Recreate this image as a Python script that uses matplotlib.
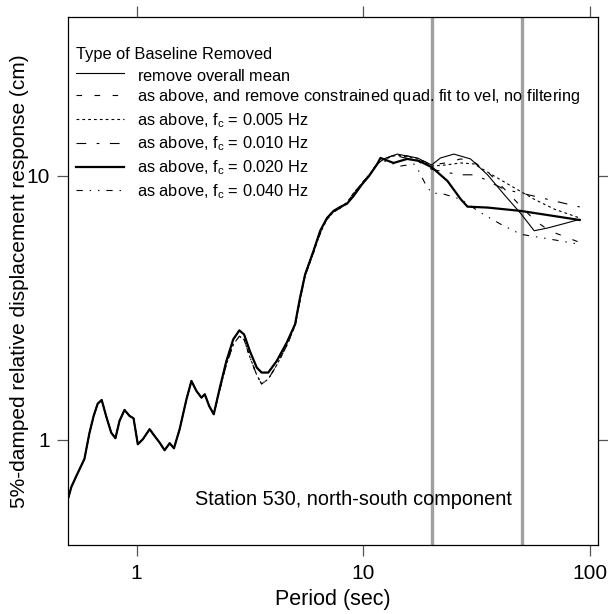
import matplotlib
matplotlib.use("Agg")
import matplotlib.pyplot as plt
import numpy as np

plt.rcParams['font.family'] = ['Liberation Sans', 'DejaVu Sans']
plt.rcParams['mathtext.fontset'] = 'custom'
plt.rcParams['mathtext.rm'] = 'Liberation Sans'
plt.rcParams['mathtext.it'] = 'Liberation Sans'
plt.rcParams['lines.scale_dashes'] = False

# ----------------- data (period in s, response in cm) ----------------- #

# short periods: all six curves lie on top of each other
period_low = [0.50, 0.516, 0.543, 0.589, 0.620, 0.647, 0.674, 0.702, 0.734, 0.773,
              0.807, 0.841, 0.885, 0.931, 0.970, 1.013, 1.066, 1.142, 1.201, 1.264,
              1.330, 1.400, 1.462, 1.549, 1.660, 1.746, 1.837, 1.933, 2.00, 2.09,
              2.19]
resp_low = [0.604, 0.664, 0.731, 0.847, 1.063, 1.233, 1.372, 1.417, 1.233, 1.066,
            1.015, 1.180, 1.299, 1.233, 1.208, 0.963, 1.006, 1.098, 1.035, 0.977,
            0.914, 0.972, 0.930, 1.098, 1.426, 1.673, 1.533, 1.446, 1.489, 1.345,
            1.251]

# 2.3 - 12 s: two slightly different strands
period_mid = [2.33, 2.49, 2.67, 2.84, 2.98, 3.16, 3.39, 3.56, 3.81, 4.15,
              4.60, 5.00, 5.26, 5.54, 6.03, 6.45, 6.91, 7.39, 7.91, 8.47,
              9.06, 9.87, 10.6, 11.5]
resp_mid_a = [1.578, 1.991, 2.405, 2.60, 2.51, 2.17, 1.88, 1.80, 1.80, 1.99,
              2.34, 2.74, 3.46, 4.24, 5.20, 6.19, 6.92, 7.37, 7.63, 7.85,
              8.40, 9.30, 10.0, 11.07]
resp_mid_b = [1.55, 1.93, 2.30, 2.47, 2.40, 2.06, 1.76, 1.63, 1.70, 1.92,
              2.28, 2.70, 3.38, 4.18, 5.12, 6.05, 6.85, 7.30, 7.55, 7.95,
              8.60, 9.40, 10.1, 11.1]

# long-period tails, one per baseline treatment
period_mean = [12.3, 14.1, 17.3, 20.0, 21.9, 25.1, 29.7, 35.3, 41.8, 49.5, 56.7, 65.0, 76.9, 90.0]
resp_mean = [11.6, 12.1, 11.7, 11.0, 11.7, 12.1, 11.6, 10.1, 8.5, 7.2, 6.2, 6.35, 6.6, 6.85]

period_quad = [12.3, 14.1, 17.3, 20.0, 23.0, 26.9, 30.8, 36.0, 42.0, 50.0, 57.0, 66.0, 77.0, 90.0]
resp_quad = [11.6, 12.1, 11.7, 11.0, 11.2, 11.6, 11.3, 10.2, 8.9, 7.6, 6.8, 6.2, 5.9, 5.6]

period_f005 = [12.3, 14.1, 17.3, 20.0, 23.0, 26.9, 30.8, 37.7, 46.5, 56.7, 69.5, 90.0]
resp_f005 = [11.6, 12.0, 11.6, 10.9, 11.0, 11.2, 11.1, 10.0, 9.0, 8.16, 7.49, 6.93]

period_f010 = [12.3, 14.1, 17.3, 20.0, 23.5, 27.0, 31.3, 41.8, 50.0, 60.7, 74.4, 90.0]
resp_f010 = [11.6, 11.9, 11.4, 10.6, 10.3, 10.1, 10.1, 8.9, 8.6, 8.27, 7.93, 7.63]

period_f020 = [11.9, 13.6, 15.6, 17.6, 20.0, 23.5, 26.9, 28.8, 35.3, 49.5, 65.0, 90.0]
resp_f020 = [11.7, 11.2, 11.6, 11.4, 10.8, 9.57, 8.16, 7.65, 7.59, 7.37, 7.11, 6.81]

period_f040 = [12.3, 14.6, 16.7, 17.6, 18.8, 20.0, 22.7, 26.9, 32.9, 40.4, 49.5, 60.7, 74.4, 90.0]
resp_f040 = [11.4, 10.9, 11.1, 10.4, 9.3, 8.63, 8.53, 8.16, 7.26, 6.56, 6.01, 5.84, 5.67, 5.51]

# the trailing empty subscript keeps every legend row the same height
labels = ['remove overall mean$_{\\ }$',
          'as above, and remove constrained quad. fit to vel, no filtering$_{\\ }$',
          'as above, f$_\\mathrm{c}$ = 0.005 Hz',
          'as above, f$_\\mathrm{c}$ = 0.010 Hz',
          'as above, f$_\\mathrm{c}$ = 0.020 Hz',
          'as above, f$_\\mathrm{c}$ = 0.040 Hz']

marked_periods = [20, 50]

# ----------------- figure ----------------- #

fig = plt.figure(figsize=(6.08, 6.14), dpi=100)
ax = fig.add_axes([0.1123, 0.1124, 0.8707, 0.8599])

for xv in marked_periods:
    ax.axvline(xv, color='#a0a0a0', lw=2.4, zorder=1)

tails = [(period_mean, resp_mean), (period_quad, resp_quad), (period_f005, resp_f005),
         (period_f010, resp_f010), (period_f020, resp_f020), (period_f040, resp_f040)]
mids = [resp_mid_a, resp_mid_b, resp_mid_b, resp_mid_a, resp_mid_a, resp_mid_b]
styles = [dict(lw=0.8, ls='-'),
          dict(lw=0.8, ls=(0, (4.0, 9.0))),
          dict(lw=0.8, ls=(0, (2.0, 2.2))),
          dict(lw=0.8, ls=(0, (7.0, 7.5, 2.0, 7.5))),
          dict(lw=1.6, ls='-'),
          dict(lw=0.8, ls=(0, (4.5, 5.0, 1.0, 5.0, 1.0, 5.0)))]

for (tp, tr), mid, st, lab in zip(tails, mids, styles, labels):
    xs = list(period_low) + list(period_mid) + list(tp)
    ys = list(resp_low) + list(mid) + list(tr)
    ax.plot(xs, ys, color='black', label=lab, zorder=3, **st)

ax.set_xscale('log')
ax.set_yscale('log')
ax.set_xlim(0.5, 108)
ax.set_ylim(0.4, 40)

ax.set_xticks([1, 10, 100])
ax.set_xticklabels(['1', '10', '100'])
ax.set_yticks([1, 10])
ax.set_yticklabels(['1', '10'])
ax.minorticks_off()
ax.tick_params(which='major', direction='out', length=8, width=0.9, color='#555555',
               labelsize=15, top=True, right=True, pad=5)
ax.tick_params(axis='x', pad=6)

for sp in ax.spines.values():
    sp.set_linewidth(0.9)

ax.set_xlabel('Period (sec)', fontsize=15.5, labelpad=4)
ax.set_ylabel('5%-damped relative displacement response (cm)', fontsize=15.0)
ax.yaxis.set_label_coords(-0.074, 0.5)

ax.text(0.24, 0.087, 'Station 530, north-south component', transform=ax.transAxes,
        fontsize=14.3, ha='left', va='center')

leg = ax.legend(loc='upper left', bbox_to_anchor=(0.015, 0.944), frameon=False,
                title='Type of Baseline Removed', alignment='left', fontsize=11.8,
                title_fontsize=11.8, handlelength=2.9, handletextpad=0.8,
                labelspacing=0.31, borderpad=0.0, borderaxespad=0.0)

fig.savefig('out.png', dpi=100)
